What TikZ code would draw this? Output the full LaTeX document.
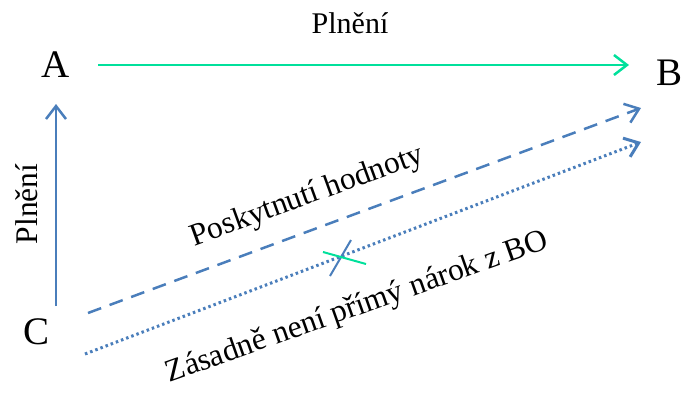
\documentclass[tikz,border=0pt]{standalone}
\usepackage{fontspec}
\setmainfont{Liberation Serif}
\usetikzlibrary{arrows.meta}
\definecolor{plnenigreen}{RGB}{0,224,155}
\definecolor{vztahblue}{RGB}{74,126,187}

\begin{document}
\begin{tikzpicture}[x=1pt, y=-1pt,
    party/.style={font=\fontsize{39}{44}\selectfont, inner sep=0pt},
    lbl/.style={font=\fontsize{30}{34}\selectfont, inner sep=0pt, anchor=base},
    slant/.style={lbl, font=\fontsize{31.5}{36}\selectfont},
    flow/.style={line width=2.5pt, -{Straight Barb[length=13pt,width=20pt]}}]
  \useasboundingbox (0,0) rectangle (683,400);
  % parties
  \node[party] (A) at (56,65) {A};
  \node[party] (B) at (669,73) {B};
  \node[party] (C) at (37,332) {C};
  % arrow ends
  \coordinate (A out) at (98,65);
  \coordinate (B in) at (629,65);
  \coordinate (C up) at (56,306);
  \coordinate (A in) at (56,104);
  \coordinate (C dash) at (88,313);
  \coordinate (B dash) at (641,108);
  \coordinate (C dot) at (85,354);
  \coordinate (B dot) at (641,142);
  \draw[flow, plnenigreen] (A out) -- (B in);
  \draw[flow, vztahblue] (C up) -- (A in);
  \draw[flow, vztahblue, dash pattern=on 14pt off 9pt] (C dash) -- (B dash);
  \draw[flow, vztahblue, line width=3pt, dash pattern=on 2.5pt off 3pt] (C dot) -- (B dot);
  % labels
  \node[lbl] (top) at (350,33) {Plnění};
  \node[slant, rotate=90] (left) at (37,204) {Plnění};
  \node[slant, rotate=20] (value) at (310,204) {Poskytnutí hodnoty};
  \node[slant, rotate=19.5] (claim) at (360,315) {Zásadně není přímý nárok z BO};
  % crossed out
  \draw[vztahblue, line width=2pt] (330,276) -- (351,240);
  \draw[plnenigreen, line width=2pt] (323,252) -- (366,264);
\end{tikzpicture}
\end{document}
